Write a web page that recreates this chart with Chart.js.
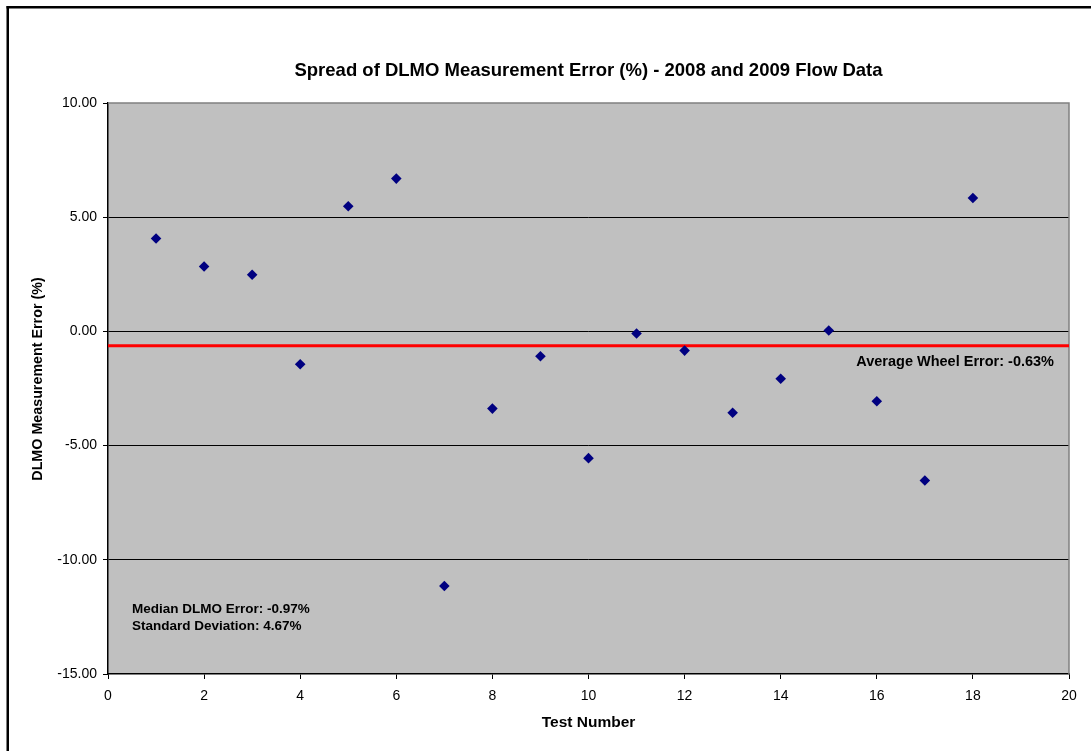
<!DOCTYPE html>
<html>
<head>
<meta charset="utf-8">
<title>Spread of DLMO Measurement Error</title>
<script src="https://cdn.jsdelivr.net/npm/chart.js@4.4.1/dist/chart.umd.min.js"></script>
<style>
  html, body { margin: 0; padding: 0; background: #fff; overflow: hidden; }
  canvas { display: block; }
</style>
</head>
<body>
<canvas id="chart" width="1091" height="751"></canvas>
<script>
// test numbers and measured DLMO error (%)
const testNumbers = [1, 2, 3, 4, 5, 6, 7, 8, 9, 10, 11, 12, 13, 14, 15, 16, 17, 18]
const dlmoErrors = [4.07, 2.84, 2.48, -1.44, 5.48, 6.69, -11.15, -3.38, -1.09, -5.55, -0.09, -0.84, -3.56, -2.07, 0.04, -3.06, -6.53, 5.84]
const averageWheelError = -0.63
const avgLineX = [0, 20]
const medianError = -0.97
const stdDeviation = 4.67

const FONT = "'Liberation Sans', Arial, sans-serif"

const frameAndLabels = {
  id: "frameAndLabels",
  beforeDraw(chart) {
    const { ctx, chartArea: a } = chart
    ctx.save()
    // outer frame (only top and left edges are visible)
    ctx.fillStyle = "#000"
    ctx.fillRect(6.5, 6, 2.5, chart.height)
    ctx.fillRect(6.5, 6, chart.width, 2.5)
    // plot area background
    ctx.fillStyle = "#C0C0C0"
    ctx.fillRect(a.left, a.top, a.right - a.left, a.bottom - a.top)
    ctx.restore()
  },
  beforeDatasetsDraw(chart) {
    const { ctx, chartArea: a } = chart
    ctx.save()
    ctx.strokeStyle = "#808080"
    ctx.lineWidth = 1.5
    ctx.beginPath()
    ctx.moveTo(a.left, a.top)
    ctx.lineTo(a.right, a.top)
    ctx.lineTo(a.right, a.bottom)
    ctx.stroke()
    ctx.restore()
  },
  afterDatasetsDraw(chart) {
    const { ctx, chartArea: a, scales } = chart
    ctx.save()
    ctx.fillStyle = "#000"
    ctx.textBaseline = "middle"

    // chart title, centred over the plot area
    ctx.textAlign = "center"
    ctx.font = "bold 18.5px " + FONT
    ctx.fillText("Spread of DLMO Measurement Error (%) - 2008 and 2009 Flow Data", (a.left + a.right) / 2, 71)

    // y axis title
    ctx.save()
    ctx.translate(38, 379)
    ctx.rotate(-Math.PI / 2)
    ctx.font = "bold 14.3px " + FONT
    ctx.fillText("DLMO Measurement Error (%)", 0, 0)
    ctx.restore()

    ctx.font = "bold 14.5px " + FONT
    ctx.textAlign = "right"
    ctx.fillText("Average Wheel Error: " + averageWheelError.toFixed(2) + "%", a.right - 15, scales.y.getPixelForValue(averageWheelError) + 16)
    ctx.textAlign = "left"
    ctx.font = "bold 13.5px " + FONT
    ctx.fillText("Median DLMO Error: " + medianError.toFixed(2) + "%", a.left + 24, 609)
    ctx.fillText("Standard Deviation: " + stdDeviation.toFixed(2) + "%", a.left + 24, 626)
    ctx.restore()
  }
}

const points = testNumbers.map((x, i) => ({ x, y: dlmoErrors[i] }))
const avgLine = avgLineX.map(x => ({ x, y: averageWheelError }))

new Chart(document.getElementById("chart"), {
  type: "scatter",
  data: {
    datasets: [
      {
        type: "line",
        data: avgLine,
        borderColor: "#FF0000",
        borderWidth: 3,
        pointRadius: 0,
        fill: false,
        order: 2,
      },
      {
        data: points,
        pointStyle: "rectRot",
        pointRadius: 5.3,
        pointHoverRadius: 5.3,
        backgroundColor: "#000080",
        borderColor: "#000080",
        borderWidth: 0,
        order: 1,
      }
    ]
  },
  options: {
    responsive: false,
    animation: false,
    devicePixelRatio: 1,
    layout: { padding: { left: 0, right: 22, top: 103, bottom: 0 } },
    plugins: {
      legend: { display: false },
      tooltip: { enabled: false },
      title: { display: false },
    },
    scales: {
      x: {
        type: "linear",
        min: 0,
        max: 20,
        ticks: { stepSize: 2, color: "#000", font: { family: FONT, size: 14 }, padding: 9, maxRotation: 0 },
        grid: { drawOnChartArea: false, tickColor: "#000", tickLength: 5 },
        border: { color: "#000", width: 1.5 },
        title: {
          display: true,
          text: "Test Number",
          color: "#000",
          font: { family: FONT, size: 15.5, weight: "bold" },
          padding: { top: 0, bottom: 18.5 },
        },
        afterFit(scale) { scale.height = 77 },
      },
      y: {
        min: -15,
        max: 10,
        ticks: {
          stepSize: 5,
          color: "#000",
          font: { family: FONT, size: 14 },
          padding: 6,
          callback: v => v.toFixed(2),
        },
        grid: {
          color: c => (c.tick && (c.tick.value === 10 || c.tick.value === -15)) ? "rgba(0,0,0,0)" : "#000",
          lineWidth: 1,
          tickColor: "#000",
          tickLength: 5,
        },
        border: { color: "#000", width: 1.5 },
        afterFit(scale) { scale.width = 108 },
      }
    }
  },
  plugins: [frameAndLabels]
})
</script>
</body>
</html>
